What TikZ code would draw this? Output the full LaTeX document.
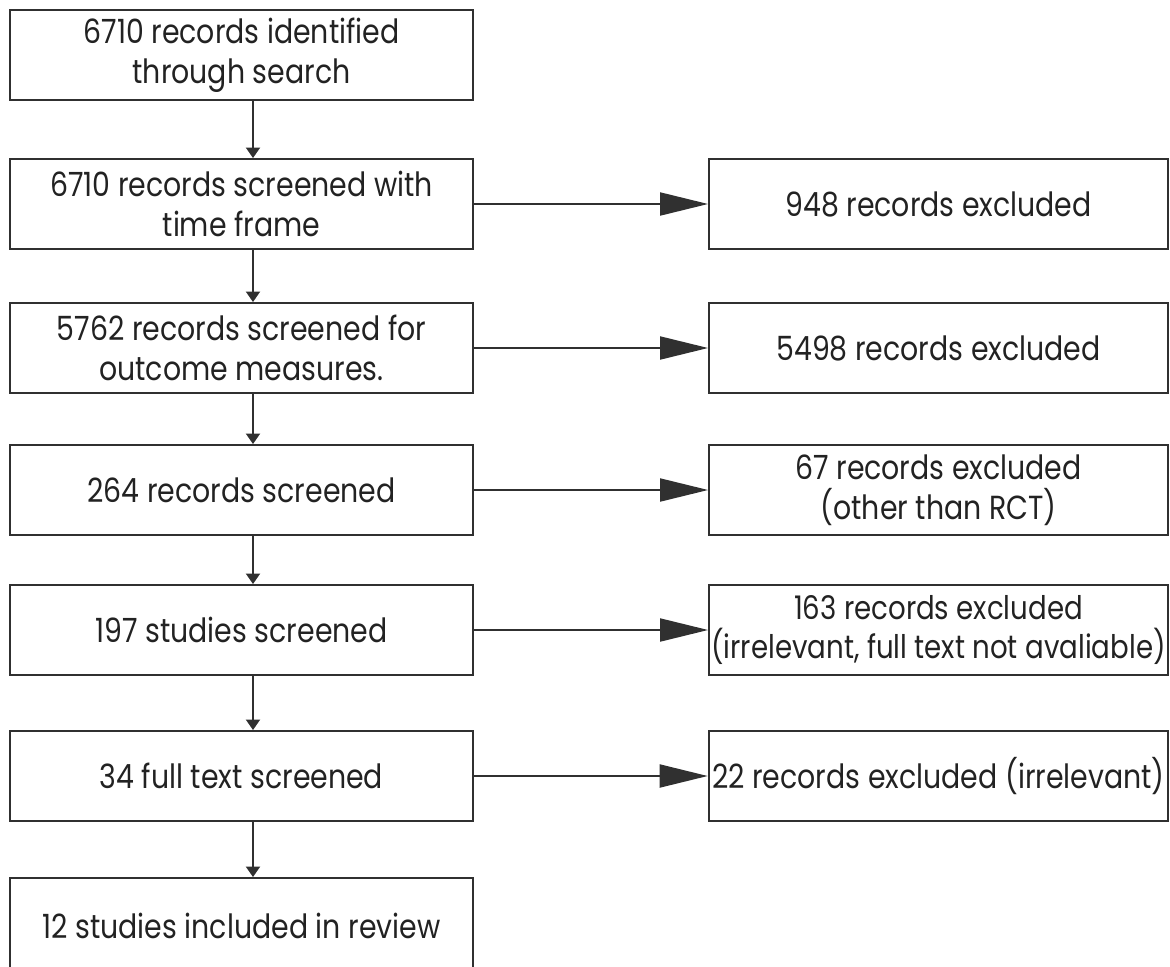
\documentclass[tikz,border=0pt]{standalone}
\usepackage{fontspec}
\setmainfont{Poppins}[FakeStretch=0.85]
\usetikzlibrary{arrows.meta}

\definecolor{edgegray}{HTML}{303030}
\definecolor{textgray}{HTML}{222222}

\tikzset{
    flowbox/.style={draw=edgegray, line width=1.1pt, align=center, inner sep=2pt,
        text=textgray, font=\fontsize{19}{22.5}\selectfont},
    mainbox/.style={flowbox, minimum width=9.26cm, minimum height=1.8cm},
    exclbox/.style={flowbox, minimum width=9.18cm, minimum height=1.8cm},
    downarrow/.style={draw=edgegray, line width=1.1pt, -{Triangle[width=8pt,length=6pt]}},
    sidearrow/.style={draw=edgegray, line width=1.1pt, -{Triangle[width=0.46cm,length=0.96cm]}}
}

\begin{document}
\begin{tikzpicture}[x=0.02cm, y=-0.02cm]
    \useasboundingbox (0,0) rectangle (1170,967);

    % Main flow
    \node[mainbox] (ident) at (241.5,55) {6710 records identified\\through search};
    \node[mainbox] (timeframe) at (241.5,204) {6710 records screened with\\time frame};
    \node[mainbox] (outcome) at (241.5,348) {5762 records screened for\\outcome measures.};
    \node[mainbox] (records) at (241.5,490) {264 records screened};
    \node[mainbox] (studies) at (241.5,630) {197 studies screened};
    \node[mainbox] (fulltext) at (241.5,776) {34 full text screened};
    \node[mainbox, minimum height=1.92cm] (included) at (241.5,926) {12 studies included in review};

    % Exclusions
    \node[exclbox] (exclA) at (938.5,204) {948 records excluded};
    \node[exclbox] (exclB) at (938.5,348) {5498 records excluded};
    \node[exclbox] (exclC) at (938.5,490) {67 records excluded\\(other than RCT)};
    \node[exclbox, inner xsep=0pt, font=\fontsize{18.5}{22.5}\selectfont] (exclD) at (938.5,630) {163 records excluded\\(irrelevant, full text not avaliable)};
    \node[exclbox] (exclE) at (938.5,776) {22 records excluded (irrelevant)};

    % Arrows down
    \draw[downarrow] ([xshift=0.23cm]ident.south) -- ([xshift=0.23cm]timeframe.north);
    \draw[downarrow] ([xshift=0.23cm]timeframe.south) -- ([xshift=0.23cm]outcome.north);
    \draw[downarrow] ([xshift=0.23cm]outcome.south) -- ([xshift=0.23cm]records.north);
    \draw[downarrow] ([xshift=0.23cm]records.south) -- ([xshift=0.23cm]studies.north);
    \draw[downarrow] ([xshift=0.23cm]studies.south) -- ([xshift=0.23cm]fulltext.north);
    \draw[downarrow] ([xshift=0.23cm]fulltext.south) -- ([xshift=0.23cm]included.north);

    % Arrows to the side
    \draw[sidearrow] (timeframe.east) -- (exclA.west);
    \draw[sidearrow] (outcome.east) -- (exclB.west);
    \draw[sidearrow] (records.east) -- (exclC.west);
    \draw[sidearrow] (studies.east) -- (exclD.west);
    \draw[sidearrow] (fulltext.east) -- (exclE.west);
\end{tikzpicture}
\end{document}
